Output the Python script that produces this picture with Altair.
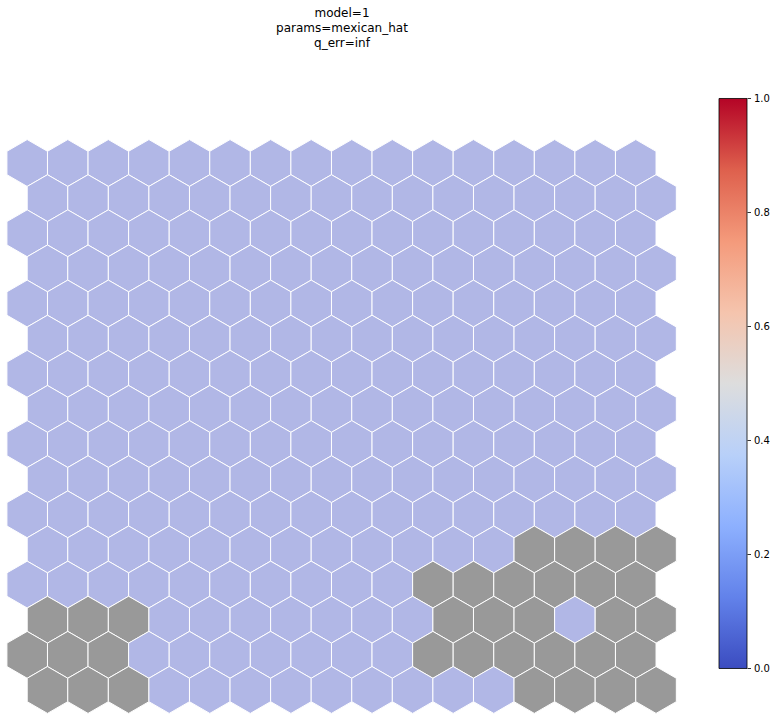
import altair as alt
import pandas as pd

# ---------------- data ----------------
n_rows = 16
n_cols = 16
# '.' = node with value 0.0, '#' = empty node (drawn grey)
row_masks = [
    "................",
    "................",
    "................",
    "................",
    "................",
    "................",
    "................",
    "................",
    "................",
    "................",
    "................",
    "............####",
    "..........######",
    "###.......###.##",
    "###.......######",
    "###.........####",
]
node_value = 0.0
colorbar_ticks = [0.0, 0.2, 0.4, 0.6, 0.8, 1.0]
coolwarm_offsets = [0.0, 0.125, 0.25, 0.375, 0.5, 0.625, 0.75, 0.875, 1.0]
coolwarm_colors = ["#3b4cc0", "#6282ea", "#8db0fe", "#b8d0f9", "#dddddd",
                   "#f5c4ad", "#f49a7b", "#de604d", "#b40426"]
title_lines = ["model=1", "params=mexican_hat", "q_err=inf"]

records = []
for r, mask in enumerate(row_masks):
    for c, ch in enumerate(mask):
        records.append({
            "row": r,
            "x": c + 0.5 * (r % 2),
            "value": node_value if ch == "." else None,
        })
df = pd.DataFrame(records)

# ---------------- layout ----------------
W, H, TOP = 777, 662, 60
HEX = "M0,-1L0.866,-0.5L0.866,0.5L0,1L-0.866,0.5L-0.866,-0.5Z"
x_lo, x_hi = -0.6704, 18.4816
y_lo, y_hi = -2.932, 15.912
cb_lo, cb_hi = -0.09386, 1.06754

hexes = alt.Chart(df).transform_calculate(
    ok="isValid(datum.value)",
    v="isValid(datum.value) ? datum.value : 0",
).mark_point(
    shape=HEX, size=2195, filled=True, opacity=1,
    stroke="white", strokeWidth=1, strokeOpacity=1,
).encode(
    x=alt.X("x:Q", scale=alt.Scale(domain=[x_lo, x_hi], nice=False, zero=False), axis=None),
    y=alt.Y("row:Q", scale=alt.Scale(domain=[y_lo, y_hi], nice=False, zero=False, reverse=True), axis=None),
    fill=alt.condition(
        "datum.ok",
        alt.Fill("v:Q", scale=alt.Scale(domain=coolwarm_offsets, range=coolwarm_colors), legend=None),
        alt.value("#999999"),
    ),
    fillOpacity=alt.condition("datum.ok", alt.value(0.4), alt.value(1.0)),
)

cb_df = pd.DataFrame({"lo": [0.0], "hi": [1.0]})
colorbar = alt.Chart(cb_df).mark_rect(
    fill=alt.LinearGradient(
        gradient="linear",
        stops=[alt.GradientStop(color=c, offset=o) for o, c in zip(coolwarm_offsets, coolwarm_colors)],
        x1=0, x2=0, y1=1, y2=0,
    ),
    stroke="black", strokeWidth=0.8,
).encode(
    x=alt.value(719), x2=alt.value(747),
    y=alt.Y("lo:Q", scale=alt.Scale(domain=[cb_lo, cb_hi], nice=False, zero=False),
            axis=alt.Axis(orient="right", offset=-30, values=colorbar_ticks, format=".1f",
                          title=None, domain=False, grid=False, tickSize=3.5, tickWidth=0.8,
                          tickColor="black", labelColor="black", labelFontSize=10,
                          labelFont="DejaVu Sans", labelPadding=3)),
    y2="hi:Q",
)

chart = alt.layer(hexes, colorbar).resolve_scale(y="independent").properties(
    width=W, height=H,
    background="white",
    autosize=alt.AutoSizeParams(type="none"),
    padding={"left": 0, "top": TOP, "right": 0, "bottom": 0},
    title=alt.TitleParams(text=title_lines, fontSize=12, font="DejaVu Sans", fontWeight="normal",
                          color="black", lineHeight=15, anchor="middle", dx=-46.5, offset=10),
).configure_view(stroke=None)

chart.save("out.html", embed_options={"renderer": "svg", "actions": False})
